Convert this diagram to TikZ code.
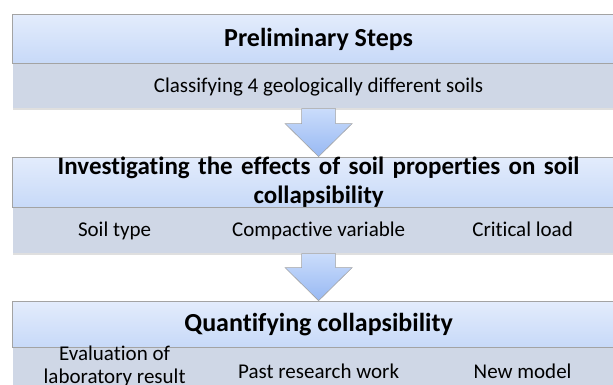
\documentclass[tikz,border=0pt]{standalone}
\usepackage{fontspec}
\setmainfont{Carlito}[Ligatures=NoCommon]
\usetikzlibrary{positioning,calc,shadows}

\definecolor{headtop}{HTML}{E3ECFC}
\definecolor{headbot}{HTML}{C7D9F8}
\definecolor{subfill}{HTML}{CFD7E6}
\definecolor{arrtop}{HTML}{CADCFB}
\definecolor{arrbot}{HTML}{98B9F3}
\definecolor{edge}{HTML}{A3A3A3}

\tikzset{
  headband/.style={rectangle, draw=edge, line width=1.2pt, top color=headtop, bottom color=headbot,
    minimum width=612pt, inner sep=0pt, font=\fontsize{26}{29}\selectfont\bfseries, anchor=north west},
  subband/.style={rectangle, fill=subfill, minimum width=612pt, inner sep=0pt,
    drop shadow={opacity=0.25, shadow xshift=0pt, shadow yshift=-2pt}},
  item/.style={font=\fontsize{21}{23}\selectfont, align=center, inner sep=0pt, anchor=base},
  blockarrow/.style={draw=edge, line width=0.6pt, top color=arrtop, bottom color=arrbot}
}

\begin{document}
\begin{tikzpicture}[x=1pt, y=-1pt]
  \useasboundingbox (0,0) rectangle (613,385);
  % first box
  \node[headband, minimum height=49pt] (head1) at (12,14) {Preliminary Steps};
  \node[subband, minimum height=44pt, below=0pt of head1] (sub1) {};
  \node[item] (classify) at ($(sub1.center)+(0,6)$) {Classifying 4 geologically different soils};
  % second box
  \node[headband, minimum height=50pt, below=48pt of sub1, anchor=north,
        font=\fontsize{25}{29}\selectfont\bfseries, align=center, text width=580pt]
        (head2) {Investigating the effects of soil properties on soil\\collapsibility};
  \node[subband, minimum height=45pt, below=0pt of head2] (sub2) {};
  \node[item] (soiltype) at ($(sub2.center)+(-204,6)$) {Soil type};
  \node[item] (compvar) at ($(sub2.center)+(0,6)$) {Compactive variable};
  \node[item] (critload) at ($(sub2.center)+(204,6)$) {Critical load};
  % third box
  \node[headband, minimum height=46pt, below=47pt of sub2, anchor=north] (head3) {Quantifying collapsibility};
  \node[subband, minimum height=48pt, below=0pt of head3] (sub3) {};
  \node[item] (evallab) at ($(sub3.center)+(-204,11)$) {Evaluation of\\laboratory result};
  \node[item] (pastwork) at ($(sub3.center)+(0,6)$) {Past research work};
  \node[item] (newmodel) at ($(sub3.center)+(204,6)$) {New model};
  % arrows between boxes
  \draw[blockarrow] ($(sub1.south)+(-17,0)$) -- ($(head2.north)+(-17,-33)$) -- ($(head2.north)+(-33.5,-33)$)
    -- (head2.north) -- ($(head2.north)+(33.5,-33)$) -- ($(head2.north)+(17,-33)$) -- ($(sub1.south)+(17,0)$) -- cycle;
  \draw[blockarrow] ($(sub2.south)+(-17,0)$) -- ($(head3.north)+(-17,-33)$) -- ($(head3.north)+(-33.5,-33)$)
    -- (head3.north) -- ($(head3.north)+(33.5,-33)$) -- ($(head3.north)+(17,-33)$) -- ($(sub2.south)+(17,0)$) -- cycle;
\end{tikzpicture}
\end{document}
